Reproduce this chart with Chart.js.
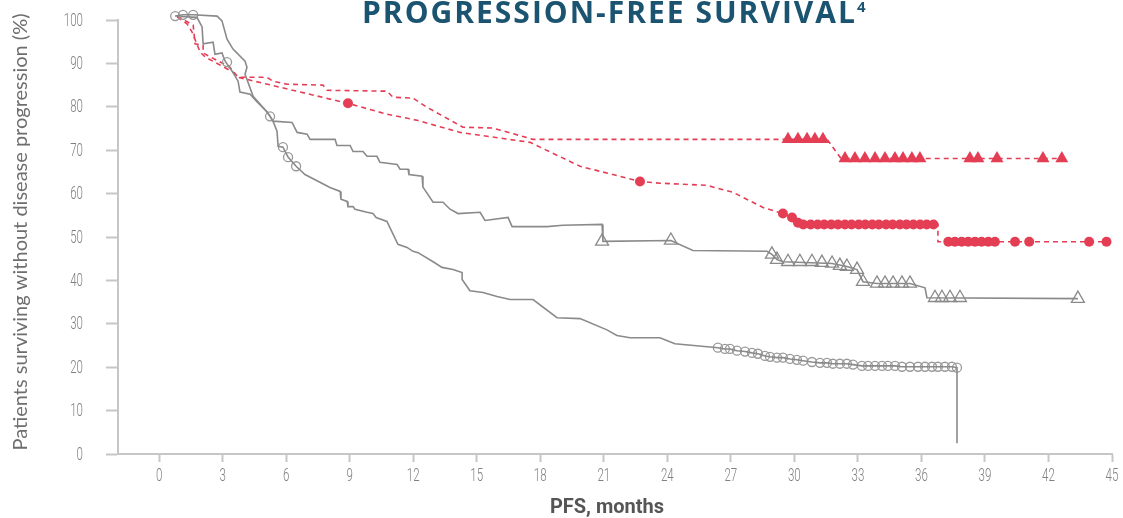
<!DOCTYPE html>
<html>
<head>
<meta charset="utf-8">
<script src="https://cdn.jsdelivr.net/npm/chart.js@4"></script>
<style>
html, body { margin: 0; padding: 0; background: #fff; }
</style>
</head>
<body>
<canvas id="pfsChart" width="1123" height="518"></canvas>
<script>
const chartTitle = "PROGRESSION-FREE SURVIVAL";
const titleRef = "4";
const xTitle = "PFS, months";
const yTitle = "Patients surviving without disease progression (%)";
const xTicks = [0, 3, 6, 9, 12, 15, 18, 21, 24, 27, 30, 33, 36, 39, 42, 45];
const yTicks = [0, 10, 20, 30, 40, 50, 60, 70, 80, 90, 100];

// red dashed curve, censored with filled triangles
const redTriCurve = [
  [0.85, 100.9], [1.61, 98.8], [1.70, 94.5], [2.08, 94.2], [2.08, 92.4], [3.35, 89.1], [3.73, 86.8],
  [5.10, 86.8], [5.38, 85.9], [6.04, 85.2], [7.74, 85.0], [7.93, 83.8], [10.76, 83.6], [11.05, 82.2],
  [11.99, 82.0], [12.65, 79.9], [14.35, 75.3], [15.77, 75.1], [17.66, 72.5], [31.55, 72.5],
  [32.2, 68.1], [42.63, 68.1]
];
const redTriMarks = [
  [29.70, 72.5], [30.17, 72.5], [30.60, 72.5], [30.97, 72.5], [31.35, 72.5],
  [32.39, 68.1], [32.86, 68.1], [33.33, 68.1], [33.81, 68.1], [34.28, 68.1], [34.75, 68.1],
  [35.13, 68.1], [35.55, 68.1], [35.93, 68.1], [38.29, 68.1], [38.67, 68.1], [39.57, 68.1],
  [41.74, 68.1], [42.63, 68.1]
];

// red dashed curve, censored with filled circles
const redCircCurve = [
  [0.85, 100.7], [1.32, 99.1], [1.56, 97.2], [1.94, 92.6], [2.17, 91.5], [3.49, 88.0], [3.73, 86.8],
  [8.92, 80.8], [10.76, 78.3], [12.18, 76.9], [14.21, 74.1], [17.52, 71.8], [19.88, 66.3],
  [22.71, 62.8], [23.65, 62.4], [25.87, 61.9], [27.10, 60.3], [28.52, 56.8], [29.46, 55.4],
  [29.89, 54.5], [30.17, 53.3], [30.42, 52.9], [36.78, 52.9], [36.78, 48.9], [44.74, 48.9]
];
const redCircMarks = [
  [8.92, 80.8], [22.71, 62.8], [29.46, 55.4], [29.89, 54.5], [30.17, 53.3],
  [30.42, 52.9], [30.77, 52.9], [31.10, 52.9], [31.41, 52.9], [31.74, 52.9], [32.06, 52.9],
  [32.39, 52.9], [32.70, 52.9], [33.04, 52.9], [33.35, 52.9], [33.68, 52.9], [33.99, 52.9],
  [34.33, 52.9], [34.64, 52.9], [34.98, 52.9], [35.29, 52.9], [35.62, 52.9], [35.94, 52.9],
  [36.25, 52.9], [36.57, 52.9],
  [37.27, 48.9], [37.58, 48.9], [37.90, 48.9], [38.21, 48.9], [38.53, 48.9], [38.84, 48.9],
  [39.16, 48.9], [39.47, 48.9], [40.42, 48.9], [41.09, 48.9], [43.92, 48.9], [44.74, 48.9]
];

// grey solid curve, censored with open triangles
const greyTriCurve = [
  [1.0, 100.8], [1.79, 100.6], [2.03, 98.4], [2.08, 94.5], [2.55, 94.9], [2.64, 92.1], [2.97, 92.4],
  [3.12, 90.5], [3.45, 88.2], [3.73, 85.9], [3.82, 83.4], [4.30, 82.9], [4.63, 81.1], [5.10, 78.8],
  [5.24, 77.8], [5.38, 76.7], [6.28, 76.4], [6.52, 74.1], [6.99, 73.7], [7.13, 72.5], [8.31, 72.5],
  [8.40, 71.1], [9.02, 71.1], [9.16, 69.7], [9.63, 69.7], [9.82, 68.6], [10.29, 68.6], [10.43, 67.2],
  [11.24, 66.7], [11.38, 65.6], [11.76, 65.6], [11.80, 64.4], [12.42, 64.0], [12.46, 61.5],
  [12.94, 58.0], [13.41, 58.0], [13.74, 56.4], [14.12, 55.4], [15.16, 55.7], [15.39, 53.8],
  [16.48, 54.5], [16.67, 52.4], [18.32, 52.4], [19.07, 52.7], [20.92, 52.9], [20.96, 49.0],
  [24.17, 49.2], [25.21, 46.9], [28.71, 46.7], [28.94, 46.0], [29.18, 44.8], [29.46, 44.3],
  [31.78, 43.9], [32.48, 43.2], [32.96, 42.5], [33.24, 39.7], [33.90, 39.3], [35.46, 39.3],
  [36.17, 38.3], [36.26, 36.0], [43.39, 35.8]
];
const greyTriMarks = [
  [20.92, 49.0], [24.17, 49.2], [28.94, 46.0], [29.18, 44.8], [29.70, 44.3], [30.26, 44.3],
  [30.83, 44.3], [31.30, 44.1], [31.78, 43.9], [32.15, 43.4], [32.48, 43.2], [32.96, 42.5],
  [33.24, 39.7], [33.90, 39.3], [34.28, 39.3], [34.66, 39.3], [35.08, 39.3], [35.46, 39.3],
  [36.64, 36.0], [36.97, 36.0], [37.35, 36.0], [37.82, 36.0], [43.39, 35.8]
];

// grey solid curve, censored with open circles
const greyCircHead = [
  [0.76, 100.9], [1.13, 101.2], [1.61, 101.2], [2.74, 100.9], [2.97, 99.8], [3.21, 95.6], [3.49, 93.3],
  [4.06, 90.5], [4.15, 89.1], [4.06, 87.5], [4.44, 82.4], [5.10, 78.8], [5.24, 77.8], [5.38, 76.7],
  [5.57, 74.4], [5.62, 70.9], [5.85, 70.7], [6.09, 68.4], [6.47, 66.3], [6.89, 64.4], [8.07, 61.4],
  [8.55, 60.5], [8.59, 58.7], [8.88, 58.2], [8.92, 57.0], [9.16, 57.0], [9.25, 56.4], [9.82, 55.7],
  [10.10, 55.4], [10.25, 54.5], [10.76, 53.6], [11.28, 48.3], [11.71, 47.6], [11.99, 46.7],
  [12.23, 46.4], [12.94, 44.3], [13.36, 43.0], [13.88, 42.5], [14.31, 41.8], [14.31, 40.2],
  [14.68, 37.6], [15.30, 37.2], [15.96, 36.3], [16.57, 35.6], [17.66, 35.6], [18.79, 31.4],
  [19.88, 31.2], [21.15, 28.6], [21.62, 27.3], [22.24, 26.8], [23.65, 26.8], [24.36, 25.4]
];
const greyCircTail = [
  [26.39, 24.5], [26.72, 24.2], [26.96, 24.2], [27.29, 23.8], [27.67, 23.6], [28.00, 23.3],
  [28.28, 23.1], [28.61, 22.6], [28.85, 22.4], [29.18, 22.2], [29.46, 22.2], [29.79, 21.9],
  [30.12, 21.7], [30.41, 21.5], [30.83, 21.2], [31.21, 21.0], [31.54, 21.0], [31.82, 20.8],
  [32.15, 20.8], [32.48, 20.8], [32.77, 20.6], [33.19, 20.3], [33.48, 20.3], [33.81, 20.3],
  [34.14, 20.3], [34.42, 20.3], [34.75, 20.3], [35.08, 20.1], [35.46, 20.1], [35.84, 20.1],
  [36.17, 20.1], [36.50, 20.1], [36.78, 20.1], [37.11, 20.1], [37.44, 20.1], [37.68, 19.9]
];
const greyCircDrop = [[37.68, 2.5]];
const greyCircEarlyMarks = [
  [0.76, 100.9], [1.13, 101.2], [1.61, 101.2], [3.21, 90.3], [5.24, 77.8], [5.85, 70.7],
  [6.09, 68.4], [6.47, 66.3]
];

const red = "#e43e55";
const grey = "#8a8a8a";
const axisColor = "#c6c6c6";
const tickColor = "#808080";

const pts = arr => arr.map(p => ({ x: p[0], y: p[1] }));

const curve = (data, color, dashed) => ({
  data: pts(data),
  showLine: true,
  borderColor: color,
  borderWidth: 1.6,
  borderDash: dashed ? [5, 4] : [],
  pointRadius: 0,
  tension: 0,
  clip: false
});

const marks = (data, style, radius, color, filled) => ({
  data: pts(data),
  showLine: false,
  pointStyle: style,
  pointRadius: radius,
  pointBackgroundColor: filled ? color : "rgba(255,255,255,0)",
  pointBorderColor: color,
  pointBorderWidth: filled ? 0 : 1.3,
  clip: false
});

// condensed tick labels, axis titles and the heading, drawn as canvas text
const textPlugin = {
  id: "pfsText",
  afterDraw(chart) {
    const ctx = chart.ctx;
    const xs = chart.scales.x;
    const ys = chart.scales.y;
    ctx.save();
    ctx.fillStyle = tickColor;
    ctx.font = "300 18px Roboto";
    ctx.textBaseline = "middle";
    ctx.textAlign = "right";
    yTicks.forEach(v => {
      ctx.save();
      ctx.translate(83, ys.getPixelForValue(v) + 1);
      ctx.scale(0.64, 1);
      ctx.fillText(String(v), 0, 0);
      ctx.restore();
    });
    ctx.textAlign = "center";
    xTicks.forEach(v => {
      ctx.save();
      ctx.translate(xs.getPixelForValue(v), 476);
      ctx.scale(0.64, 1);
      ctx.fillText(String(v), 0, 0);
      ctx.restore();
    });

    // axis titles
    ctx.fillStyle = "#555";
    ctx.font = "700 20px Roboto";
    ctx.fillText(xTitle, 607, 508);
    ctx.save();
    ctx.translate(21, 232);
    ctx.rotate(-Math.PI / 2);
    ctx.fillStyle = "#6e6e6e";
    ctx.font = "400 20px Lato";
    ctx.fillText(yTitle, 0, 0);
    ctx.restore();

    // heading
    ctx.fillStyle = "#1b5470";
    ctx.textAlign = "left";
    ctx.textBaseline = "alphabetic";
    ctx.font = "700 30px 'Open Sans'";
    ctx.letterSpacing = "2px";
    ctx.fillText(chartTitle, 362, 23);
    const w = ctx.measureText(chartTitle).width;
    ctx.font = "700 15px 'Open Sans'";
    ctx.letterSpacing = "0px";
    ctx.fillText(titleRef, 362 + w, 12);
    ctx.restore();
  }
};

const ctx = document.getElementById("pfsChart").getContext("2d");
const pfsChart = new Chart(ctx, {
  type: "scatter",
  data: {
    datasets: [
      curve(greyTriCurve, grey, false),
      curve(greyCircHead.concat(greyCircTail, greyCircDrop), grey, false),
      marks(greyTriMarks, "triangle", 7.5, grey, false),
      marks(greyCircEarlyMarks.concat(greyCircTail), "circle", 4.5, "#999", false),
      curve(redTriCurve, red, true),
      curve(redCircCurve, red, true),
      marks(redTriMarks, "triangle", 7.5, red, true),
      marks(redCircMarks, "circle", 5, red, true)
    ]
  },
  options: {
    responsive: false,
    animation: false,
    layout: { padding: { top: 20, right: 11, left: 0, bottom: 0 } },
    plugins: { legend: { display: false }, tooltip: { enabled: false } },
    scales: {
      x: {
        type: "linear",
        min: -1.94,
        max: 45,
        afterBuildTicks: axis => { axis.ticks = xTicks.map(v => ({ value: v })); },
        afterFit: scale => { scale.height = 64; },
        grid: { drawOnChartArea: false, drawTicks: true, tickLength: 8, color: axisColor, tickWidth: 2 },
        border: { display: true, color: axisColor, width: 2 },
        ticks: { display: false }
      },
      y: {
        min: 0,
        max: 100,
        afterBuildTicks: axis => { axis.ticks = yTicks.map(v => ({ value: v })); },
        afterFit: scale => { scale.width = 118; },
        grid: { drawOnChartArea: false, drawTicks: true, tickLength: 12, color: axisColor, tickWidth: 2 },
        border: { display: true, color: axisColor, width: 2 },
        ticks: { display: false }
      }
    }
  },
  plugins: [textPlugin]
});
</script>
</body>
</html>
